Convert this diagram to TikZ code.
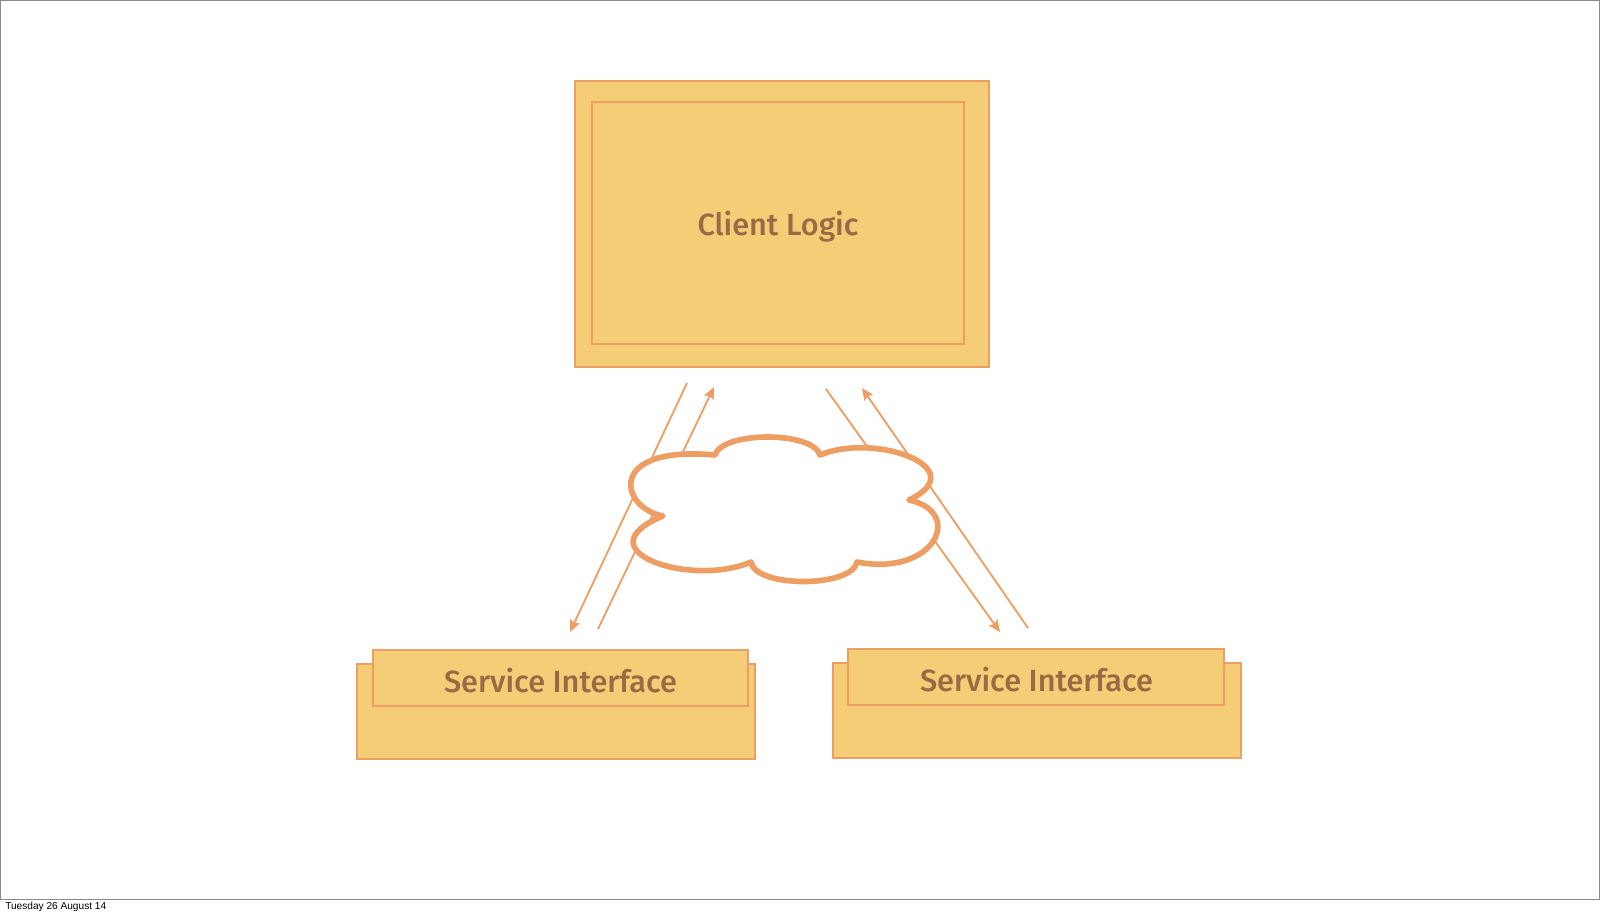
\documentclass[tikz,border=0pt]{standalone}
\usepackage{fontspec}
\IfFontExistsTF{Fira Sans Medium}{\setmainfont{Fira Sans Medium}}{\setmainfont[FakeBold=1.2]{Fira Sans}}
\newfontfamily\footfont{Liberation Sans}
\usetikzlibrary{arrows.meta}
\definecolor{boxfill}{HTML}{F4CD76}
\definecolor{boxline}{HTML}{EE9E63}
\definecolor{txt}{HTML}{9C6945}
\definecolor{frame}{HTML}{8A8A8A}
\tikzset{
  panel/.style={draw=boxline, fill=boxfill, line width=1.4pt, inner sep=0pt, rectangle},
  label/.style={text=txt, inner sep=0pt, anchor=base},
  link/.style={draw=boxline, line width=1.3pt, -{Stealth[length=8.5pt,width=7.5pt,inset=1.5pt]}},
  cloudline/.style={draw=boxline, line width=4pt, fill=white, line join=round}
}
\begin{document}
\begin{tikzpicture}[x=0.025cm, y=-0.025cm]
\useasboundingbox (0,0) rectangle (1600,917);
\fill[white] (0,0) rectangle (1600,917);
\draw[frame, line width=0.8pt] (0.5,0.5) rectangle (1599.5,899.5);
\node[anchor=base west, inner sep=0pt, font=\footfont\fontsize{7.2pt}{9pt}\selectfont] (date) at (5,909) {Tuesday 26 August 14};

% client
\node[panel, minimum width=10.35cm, minimum height=7.15cm] (clientout) at (782,224) {};
\node[panel, minimum width=9.3cm, minimum height=6.05cm] (clientin) at (778,223) {};
\node[label, font=\fontsize{21.8pt}{26pt}\selectfont] (clienttxt) at (778,235) {Client Logic};

% left service
\node[panel, minimum width=9.95cm, minimum height=2.375cm] (lback) at (556,711.5) {};
\node[panel, minimum width=9.375cm, minimum height=1.4cm] (lfront) at (560.5,678) {};
\node[label, font=\fontsize{21.8pt}{27pt}\selectfont] (ltxt) at (560.5,692) {Service Interface};

% right service
\node[panel, minimum width=10.2cm, minimum height=2.375cm] (rback) at (1037,710.5) {};
\node[panel, minimum width=9.4cm, minimum height=1.4cm] (rfront) at (1036,677) {};
\node[label, font=\fontsize{21.8pt}{27pt}\selectfont] (rtxt) at (1036.5,691) {Service Interface};

% arrow end points
\coordinate (a1s) at (687,383);
\coordinate (a1e) at (570,632);
\coordinate (a2s) at (598,629);
\coordinate (a2e) at (714,387);
\coordinate (a3s) at (826,389);
\coordinate (a3e) at (1000,632);
\coordinate (a4s) at (1028,628);
\coordinate (a4e) at (862,388);
\draw[link] (a1s) -- (a1e);
\draw[link] (a2s) -- (a2e);
\draw[link] (a3s) -- (a3e);
\draw[link] (a4s) -- (a4e);

% cloud
\coordinate (c1) at (715,455);
\coordinate (c2) at (820,455);
\coordinate (c3) at (909,500);
\coordinate (c4) at (857,562);
\coordinate (c5) at (751,562);
\coordinate (c6) at (663,516);
\path[cloudline] (c1) .. controls (722,431) and (813,431) .. (c2)
  .. controls (875,432) and (975,468) .. (c3)
  .. controls (965,512) and (935,577) .. (c4)
  .. controls (852,588) and (755,588) .. (c5)
  .. controls (690,588) and (580,550) .. (c6)
  .. controls (620,508) and (605,445) .. (c1) -- cycle;
\end{tikzpicture}
\end{document}
